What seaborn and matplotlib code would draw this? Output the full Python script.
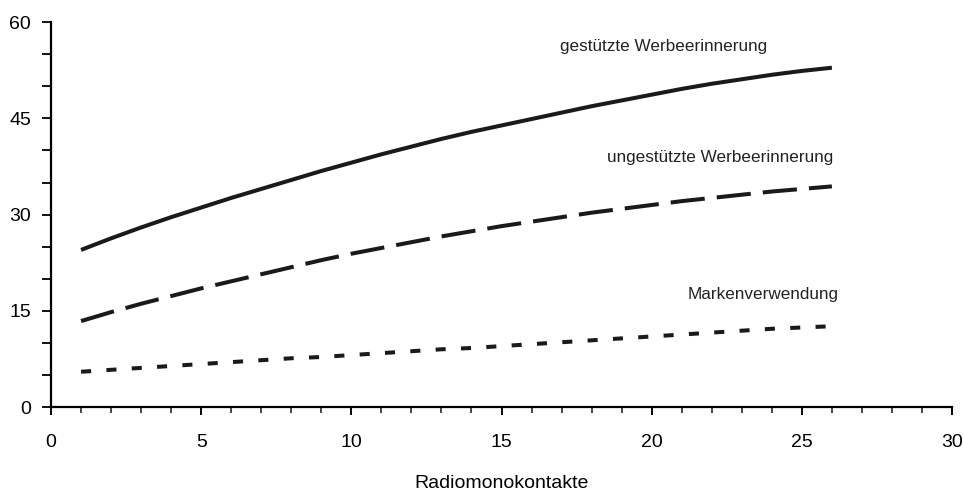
import matplotlib
matplotlib.use("Agg")
import matplotlib.pyplot as plt
import seaborn as sns
import pandas as pd
from matplotlib.ticker import MultipleLocator

# ---- data ----
kontakte = list(range(1, 27))
gestuetzt = [24.5, 26.3, 28.0, 29.6, 31.1, 32.6, 34.0, 35.4, 36.8, 38.1,
             39.4, 40.6, 41.8, 42.9, 43.9, 44.9, 45.9, 46.9, 47.8, 48.7,
             49.6, 50.4, 51.1, 51.8, 52.4, 52.9]
ungestuetzt = [13.4, 14.8, 16.1, 17.3, 18.5, 19.6, 20.7, 21.8, 22.9, 23.9,
               24.8, 25.7, 26.6, 27.4, 28.2, 28.9, 29.6, 30.3, 30.9, 31.5,
               32.1, 32.6, 33.1, 33.6, 34.0, 34.4]
marke = [5.5, 5.8, 6.1, 6.4, 6.7, 7.0, 7.3, 7.6, 7.8, 8.1,
         8.4, 8.7, 9.0, 9.2, 9.5, 9.8, 10.1, 10.4, 10.7, 11.0,
         11.3, 11.6, 11.9, 12.2, 12.4, 12.6]
series_names = ["gestützte Werbeerinnerung", "ungestützte Werbeerinnerung", "Markenverwendung"]
x_ticks = [0, 5, 10, 15, 20, 25, 30]
y_ticks = [0, 15, 30, 45, 60]
x_label = "Radiomonokontakte"

df = pd.concat([
    pd.DataFrame({"x": kontakte, "y": vals, "serie": name})
    for name, vals in zip(series_names, [gestuetzt, ungestuetzt, marke])
], ignore_index=True)

sns.set_theme(style="ticks")
plt.rcParams["font.family"] = ["Liberation Sans", "DejaVu Sans"]

fig = plt.figure(figsize=(9.63, 4.93), dpi=100)
ax = fig.add_axes([0.053, 0.1744, 0.9356, 0.7806])

ink = "#1a1a1a"
sns.lineplot(data=df, x="x", y="y", style="serie", ax=ax,
             color=ink, linewidth=2.9,
             dashes={series_names[0]: "", series_names[1]: (8.5, 3.0),
                     series_names[2]: (2.5, 3.8)},
             legend=False)
for ln in ax.get_lines():
    ln.set_solid_capstyle("butt")
    ln.set_dash_capstyle("butt")

ax.set_xlim(0, 30)
ax.set_ylim(0, 60)
ax.set_xticks(x_ticks)
ax.set_yticks(y_ticks)
ax.xaxis.set_minor_locator(MultipleLocator(1))
ax.yaxis.set_minor_locator(MultipleLocator(5))
ax.tick_params(axis="x", which="major", direction="out", length=5.5, width=1.4,
               pad=14, labelsize=14, colors="black")
ax.tick_params(axis="x", which="minor", direction="out", length=4, width=1.2)
ax.tick_params(axis="y", which="both", direction="out", length=6.5, width=1.3,
               pad=8, labelsize=14, colors="black")
for s in ["top", "right"]:
    ax.spines[s].set_visible(False)
for s in ["left", "bottom"]:
    ax.spines[s].set_linewidth(1.6)
    ax.spines[s].set_color("black")

ax.set_xlabel(x_label, fontsize=14, labelpad=17, color="black")
ax.set_ylabel("")

label_pos = [(16.95, 56.2), (18.5, 38.9), (21.2, 17.6)]
for name, (lx, ly) in zip(series_names, label_pos):
    ax.text(lx, ly, name, ha="left", va="center", fontsize=12.3, color="#222222")

fig.savefig("out.png", dpi=100)
